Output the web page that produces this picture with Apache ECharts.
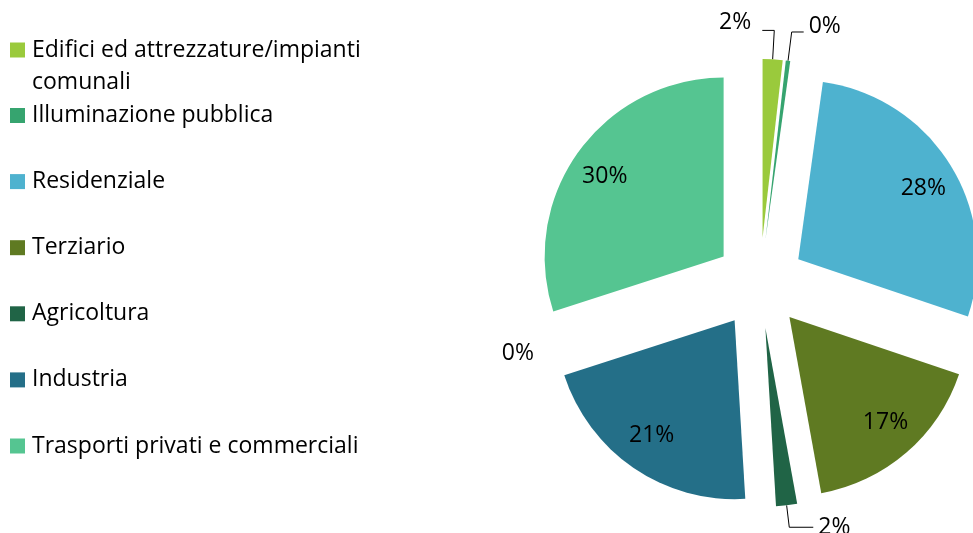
<!DOCTYPE html>
<html>
<head>
<meta charset="utf-8">
<script src="https://cdn.jsdelivr.net/npm/echarts@6/dist/echarts.min.js"></script>
<style>
  html, body { margin: 0; padding: 0; background: #fff; }
  #main { width: 973px; height: 533px; }
</style>
</head>
<body>
<div id="main"></div>
<script>
// quote per settore (%)
const categories = [
  "Edifici ed attrezzature/impianti comunali",
  "Illuminazione pubblica",
  "Residenziale",
  "Terziario",
  "Agricoltura",
  "Industria",
  "Altro",
  "Trasporti privati e commerciali"
];
const values = [1.8, 0.4, 28.0, 17.0, 1.9, 21.0, 0, 30.0];
const colors = ["#9aca3c", "#36a46f", "#4eb2cf", "#5f7a22", "#206446", "#246f88", "#8fd3b5", "#55c591"];
const legendFirst = [categories[0]];
const legendRest = categories.slice(1).filter((n) => n !== "Altro");

const FONT = "Open Sans";
const FS = 23;
const CENTER = [760, 283];

const chart = echarts.init(document.getElementById("main"));

const pct = (p) => Math.round(p.value) + "%";

// small slices get outside labels, big ones get labels from the overlay series
function smallLabel(i) {
  const name = categories[i];
  if (name === "Edifici ed attrezzature/impianti comunali") {
    // drawn to the left of its leader line
    return { show: true, lineHeight: 16, padding: [0, 40, 0, 0] };
  }
  if (name === "Illuminazione pubblica") return { show: true, lineHeight: 12 };
  return { show: values[i] < 5 };
}
function smallLabelLine(i) {
  if (categories[i] === "Agricoltura") return { length: 22, length2: 24 };
  if (categories[i] === "Altro") return { show: false, length: 4, length2: 4 };
  return { length: 29, length2: 12 };
}

const mainData = categories.map((name, i) => ({
  name,
  value: values[i],
  selected: true,
  itemStyle: { color: colors[i] },
  label: smallLabel(i),
  labelLine: values[i] < 5 ? smallLabelLine(i) : { show: false }
}));

const overlayData = categories.map((name, i) => ({
  name,
  value: values[i],
  selected: true,
  label: { show: values[i] >= 5 }
}));

const option = {
  animation: false,
  legend: [
    {
      orient: "vertical",
      left: 10,
      top: 2,
      padding: 0,
      itemWidth: 15,
      itemHeight: 15,
      icon: "rect",
      selectedMode: false,
      data: legendFirst,
      formatter: () => "\nEdifici ed attrezzature/impianti\ncomunali",
      textStyle: {
        fontFamily: FONT, fontSize: FS, color: "#000",
        lineHeight: 32, padding: [0, 0, 0, 2]
      }
    },
    {
      orient: "vertical",
      left: 10,
      top: 99.5,
      padding: 0,
      itemGap: 34.1,
      itemWidth: 15,
      itemHeight: 15,
      icon: "rect",
      selectedMode: false,
      data: legendRest,
      textStyle: {
        fontFamily: FONT, fontSize: FS, color: "#000",
        lineHeight: 32, padding: [0, 0, 0, 2]
      }
    }
  ],
  series: [
    {
      type: "pie",
      center: CENTER,
      radius: 179,
      startAngle: 90,
      clockwise: true,
      selectedMode: "multiple",
      selectedOffset: 45,
      avoidLabelOverlap: false,
      silent: true,
      label: {
        position: "outside",
        formatter: pct,
        fontFamily: FONT,
        fontSize: FS,
        color: "#000"
      },
      labelLine: { lineStyle: { color: "#000", width: 1 } },
      labelLayout: function (params) {
        if (params.dataIndex === 1) return { verticalAlign: "bottom" };
        if (params.dataIndex !== 0 || !params.labelLinePoints) return;
        // mirror the horizontal part of the first leader line to the left
        const pts = params.labelLinePoints;
        const p1 = pts[1], p2 = pts[2];
        return {
          align: "right",
          verticalAlign: "bottom",
          labelLinePoints: [pts[0], p1, [2 * p1[0] - p2[0], p2[1]]]
        };
      },
      data: mainData
    },
    {
      type: "pie",
      center: CENTER,
      radius: 288,
      startAngle: 90,
      clockwise: true,
      selectedMode: "multiple",
      selectedOffset: 45,
      silent: true,
      itemStyle: { color: "rgba(0,0,0,0)" },
      label: {
        position: "inside",
        formatter: pct,
        fontFamily: FONT,
        fontSize: FS,
        color: "#000",
        lineHeight: 12
      },
      labelLine: { show: false },
      // nudge inside labels a little toward the horizontal middle
      labelLayout: function (params) {
        const r = params.labelRect;
        return { verticalAlign: r.y + r.height / 2 < CENTER[1] ? "top" : "bottom" };
      },
      data: overlayData
    }
  ]
};

chart.setOption(option);
</script>
</body>
</html>
